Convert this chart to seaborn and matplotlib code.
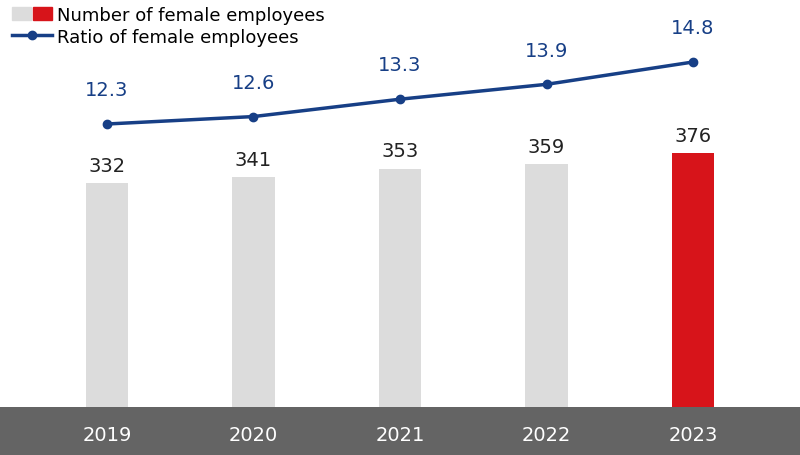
import matplotlib
matplotlib.use("Agg")
import matplotlib.pyplot as plt
import seaborn as sns
import pandas as pd
from matplotlib.patches import Patch
from matplotlib.lines import Line2D
from matplotlib.legend_handler import HandlerTuple

years = ["2019", "2020", "2021", "2022", "2023"]
counts = [332, 341, 353, 359, 376]
ratios = [12.3, 12.6, 13.3, 13.9, 14.8]

df = pd.DataFrame({"year": years, "count": counts, "ratio": ratios})
gray, red, blue = "#dcdcdc", "#d7141a", "#173f86"
colors = [gray] * 4 + [red]

fig = plt.figure(figsize=(8, 4.56), dpi=100)
H = 456
ax = fig.add_axes([0, 48 / H, 1, 408 / H])
sns.barplot(data=df, x="year", y="count", hue="year", palette=colors, legend=False,
            width=0.29, ax=ax, saturation=1)
ax.set_xlim(-0.73, 4.73)
ax.set_ylim(0, 604)
for i, v in enumerate(counts):
    ax.text(i, v + 12, str(v), ha="center", va="bottom", fontsize=14, color="#222222")
ax.axis("off")

ax2 = ax.twinx()
ax2.plot(range(5), ratios, color=blue, lw=2.5, marker="o", ms=6)
ax2.set_ylim(0.89, 17.34)
ax2.set_xlim(-0.73, 4.73)
for i, v in enumerate(ratios):
    ax2.text(i, v + 1.0, f"{v}", ha="center", va="bottom", fontsize=14, color=blue)
ax2.axis("off")

band = fig.add_axes([0, 0, 1, 48 / H])
band.set_facecolor("#646464")
band.set_xlim(-0.73, 4.73)
band.set_ylim(0, 1)
for s in band.spines.values():
    s.set_visible(False)
band.set_xticks([]); band.set_yticks([])
for i, y in enumerate(years):
    band.text(i, 0.42, y, ha="center", va="center", color="white", fontsize=14)

handles = [(Patch(color=gray), Patch(color=red)),
           Line2D([], [], color=blue, lw=2.5, marker="o", ms=6)]
fig.legend(handles, ["Number of female employees", "Ratio of female employees"],
           handler_map={tuple: HandlerTuple(ndivide=None, pad=0.1)},
           loc="upper left", bbox_to_anchor=(-0.005, 1.02), frameon=False,
           fontsize=13, handlelength=2.2, handletextpad=0.3, labelspacing=0.2)
fig.savefig("out.png", dpi=100)
